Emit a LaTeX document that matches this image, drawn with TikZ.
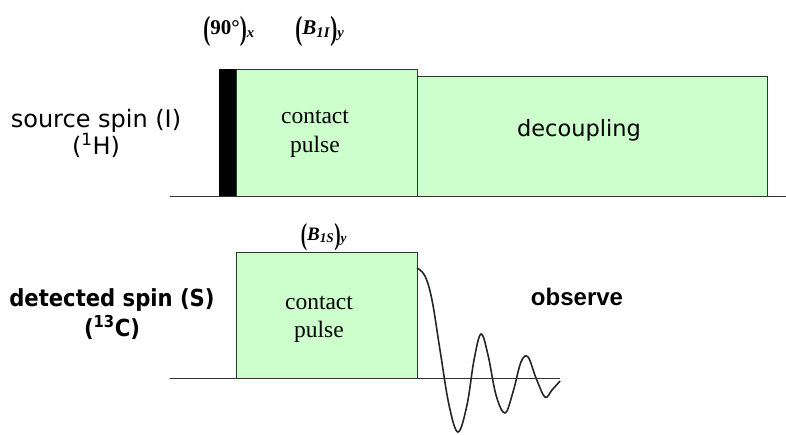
\documentclass[tikz,border=0pt]{standalone}
\usepackage{fontspec}
\setmainfont{Liberation Serif}
\newfontfamily\labfont{DejaVu Sans}
\newfontfamily\labcfont{DejaVu Sans Condensed}
\newfontfamily\arialfont{Liberation Sans}
\newcommand{\bigparL}{\raisebox{-0.22em}{\scalebox{1}[1.6]{(}}}
\newcommand{\bigparR}{\raisebox{-0.22em}{\scalebox{1}[1.6]{)}}}
\begin{document}
\begin{tikzpicture}[x=1pt,y=-1pt,
  pulsebox/.style={draw=black!80,line width=0.8pt,fill=green!20!white},
  boxlab/.style={font=\fontsize{23.5}{29}\selectfont,align=center,inner sep=0pt},
  phaselab/.style={font=\bfseries\fontsize{21}{24}\selectfont,inner sep=0pt},
  axisline/.style={draw=black!80,line width=0.9pt}]
\useasboundingbox (0,0) rectangle (786,435);
% baselines
\coordinate (t0) at (170,196); \coordinate (t1) at (786,196);
\coordinate (b0) at (170,378); \coordinate (b1) at (560,378);
\draw[axisline] (t0) -- (t1);
\draw[axisline] (b0) -- (b1);
% top channel
\path[pulsebox] (236,69) rectangle (417,196);
\node[fill=black,minimum width=17pt,minimum height=127pt,inner sep=0pt,anchor=north west] (p90) at (219,69) {};
\path[pulsebox] (417,76) rectangle (767,196);
\node[boxlab] (cp1) at (315,134) {contact\\pulse};
\node[font=\labfont\fontsize{22.5}{26}\selectfont,inner sep=0pt] (dec) at (579,130) {decoupling};
% bottom channel
\path[pulsebox] (236,252) rectangle (417,378);
\node[boxlab,font=\fontsize{23.5}{28}\selectfont] (cp2) at (319,319) {contact\\pulse};
\node[font=\arialfont\bfseries\fontsize{24}{28}\selectfont,inner sep=0pt] (obs) at (577,297) {observe};
% FID
\draw[line width=1.6pt,black!85] plot[smooth,tension=0.6] coordinates {(417,268) (425,276) (432,300) (440,350) (449,405) (458,432) (467,405) (474,360) (481,334) (488,355) (496,395) (505,413) (513,392) (521,362) (528,357) (536,378) (545,397) (552,390) (560,381)};
% side labels
\node[font=\labfont\fontsize{24}{27}\selectfont,align=center,inner sep=0pt] (src) at (96,133) {source spin (I)\\(\textsuperscript{1}H)};
\node[font=\labcfont\bfseries\fontsize{23.5}{30}\selectfont,align=center,inner sep=0pt] (det) at (112,314) {detected spin (S)\\(\textsuperscript{13}C)};
% phase labels
\node[phaselab] (l90) at (229,31) {\bigparL 90°\bigparR\textsubscript{\textit{x}}};
\node[phaselab] (lbi) at (320,31) {\bigparL\textit{B}\textsubscript{\textit{1I}}\bigparR\textsubscript{\textit{y}}};
\node[phaselab,font=\bfseries\fontsize{19}{22}\selectfont] (lbs) at (324,237) {\bigparL\textit{B}\textsubscript{\textit{1S}}\bigparR\textsubscript{\textit{y}}};
\end{tikzpicture}
\end{document}
